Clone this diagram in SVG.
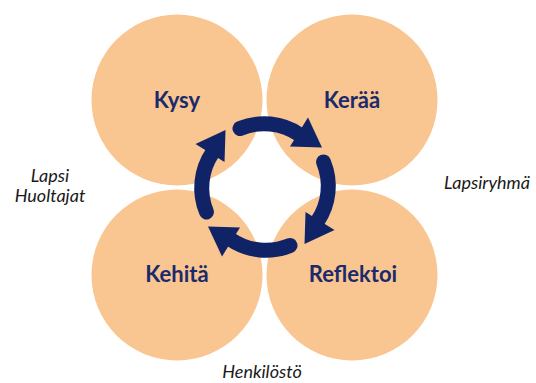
<svg xmlns="http://www.w3.org/2000/svg" width="536" height="383" viewBox="0 0 536 383">
<style>
.c{fill:#F9C590;}
.lbl{font-family:Lato,"Liberation Sans",sans-serif;font-weight:bold;font-size:22px;fill:#1B2A6A;text-anchor:middle;}
.side{font-family:Lato,"Liberation Sans",sans-serif;font-style:italic;font-size:18px;fill:#1a1a1a;text-anchor:middle;}
.arc{fill:none;stroke:#0F2366;stroke-width:15;stroke-linecap:round;}
.head{fill:#0F2366;}
</style>
<defs>
<g id="arrow">
<path class="arc" d="M 240.0 128.5 A 63 63 0 0 1 299.5 134.6"/>
<polygon class="head" points="308.0,117.5 290.0,146.5 322.0,147.5"/>
</g>
</defs>
<rect width="536" height="383" fill="#ffffff"/>
<g id="node-kysy"><circle class="c" cx="177" cy="100" r="85.5"/><text class="lbl" x="177" y="108">Kysy</text></g>
<g id="node-keraa"><circle class="c" cx="352" cy="100" r="85.5"/><text class="lbl" x="352" y="108">Kerää</text></g>
<g id="node-kehita"><circle class="c" cx="177" cy="275" r="85.5"/><text class="lbl" x="177" y="282">Kehitä</text></g>
<g id="node-reflektoi"><circle class="c" cx="352" cy="275" r="85.5"/><text class="lbl" x="353" y="282">Reflektoi</text></g>
<g id="connectors">
<use href="#arrow"/>
<use href="#arrow" transform="rotate(90 265 187)"/>
<use href="#arrow" transform="rotate(180 265 187)"/>
<use href="#arrow" transform="rotate(270 265 187)"/>
</g>
<g id="labels">
<text class="side" x="50" y="182"><tspan x="50" y="182">Lapsi</tspan><tspan x="50" y="202">Huoltajat</tspan></text>
<text class="side" x="487" y="189">Lapsiryhmä</text>
<text class="side" x="262" y="378">Henkilöstö</text>
</g>
</svg>
